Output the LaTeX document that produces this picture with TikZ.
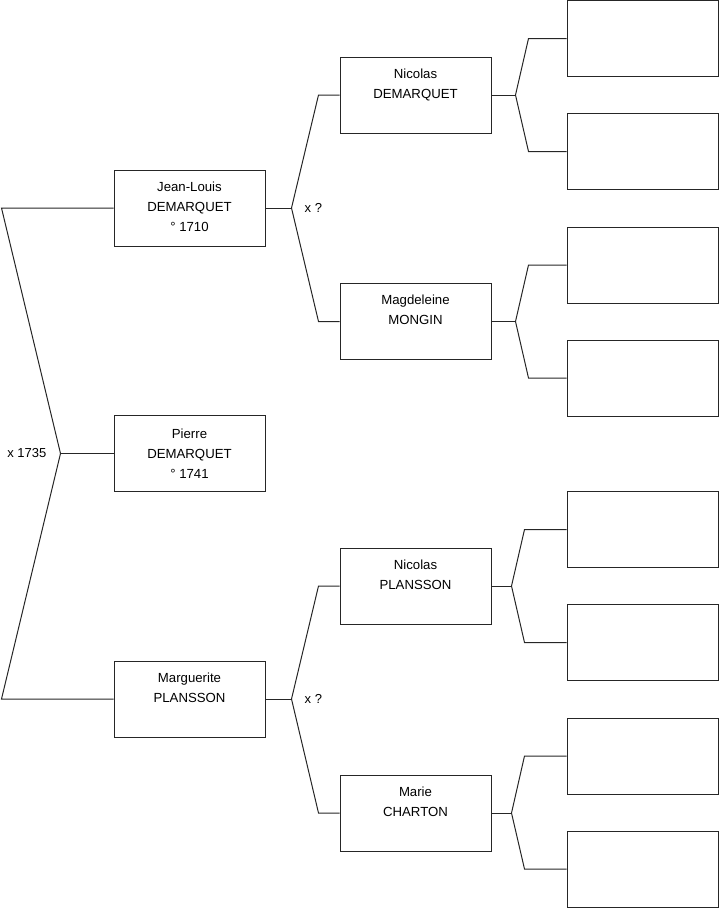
\documentclass[tikz,border=0pt]{standalone}
\usepackage{fontspec}
\setmainfont{Liberation Sans}
\begin{document}
\begin{tikzpicture}[x=1pt,y=-1pt,
  person/.style={draw=black!85, line width=1pt, minimum width=151pt, minimum height=76pt, inner sep=0pt, fill=white},
  ptext/.style={anchor=base, align=center, inner sep=0pt, font=\fontsize{13.2}{20}\selectfont},
  conn/.style={draw=black!85, line width=1pt},
  mlabel/.style={inner sep=0pt, font=\fontsize{13}{16}\selectfont}]
\useasboundingbox (0,0) rectangle (719,908);
% generation 1
\node[person] (P) at (189.5,453.5) {};
% generation 2
\node[person] (JL) at (189.5,208) {};
\node[person] (M) at (189.5,699) {};
% generation 3
\node[person] (ND) at (415.5,95) {};
\node[person] (MM) at (415.5,321.5) {};
\node[person] (NP) at (415.5,586) {};
\node[person] (MC) at (415.5,813) {};
% generation 4
\node[person] (R1) at (642.5,38.5) {};
\node[person] (R2) at (642.5,151.5) {};
\node[person] (R3) at (642.5,265) {};
\node[person] (R4) at (642.5,378) {};
\node[person] (R5) at (642.5,529.5) {};
\node[person] (R6) at (642.5,642.5) {};
\node[person] (R7) at (642.5,756) {};
\node[person] (R8) at (642.5,869) {};
% texts (base anchor = baseline of the last line)
\node[ptext] (tP) at ([yshift=-63]P.north) {Pierre\\DEMARQUET\\° 1741};
\node[ptext] (tJL) at ([yshift=-61.5]JL.north) {Jean-Louis\\DEMARQUET\\° 1710};
\node[ptext] (tM) at ([yshift=-41.5]M.north) {Marguerite\\PLANSSON};
\node[ptext] (tND) at ([yshift=-41.5]ND.north) {Nicolas\\DEMARQUET};
\node[ptext] (tMM) at ([yshift=-41.5]MM.north) {Magdeleine\\MONGIN};
\node[ptext] (tNP) at ([yshift=-41.5]NP.north) {Nicolas\\PLANSSON};
\node[ptext] (tMC) at ([yshift=-41.5]MC.north) {Marie\\CHARTON};
% branch points
\coordinate (bP) at ([xshift=-53]P.west);
\coordinate (bJL) at ([xshift=26]JL.east);
\coordinate (bM) at ([xshift=26]M.east);
\coordinate (bND) at ([xshift=24]ND.east);
\coordinate (bMM) at ([xshift=24]MM.east);
\coordinate (bNP) at ([xshift=20]NP.east);
\coordinate (bMC) at ([xshift=20]MC.east);
% connectors
\draw[conn] (P.west) -- (bP);
\draw[conn] (JL.west) -- ([xshift=-112]JL.west) -- (bP) -- ([xshift=-112]M.west) -- (M.west);
\draw[conn] (JL.east) -- (bJL);
\draw[conn] (ND.west) -- ([xshift=-21]ND.west) -- (bJL) -- ([xshift=-21]MM.west) -- (MM.west);
\draw[conn] (M.east) -- (bM);
\draw[conn] (NP.west) -- ([xshift=-21]NP.west) -- (bM) -- ([xshift=-21]MC.west) -- (MC.west);
\draw[conn] (ND.east) -- (bND);
\draw[conn] (R1.west) -- ([xshift=-38]R1.west) -- (bND) -- ([xshift=-38]R2.west) -- (R2.west);
\draw[conn] (MM.east) -- (bMM);
\draw[conn] (R3.west) -- ([xshift=-38]R3.west) -- (bMM) -- ([xshift=-38]R4.west) -- (R4.west);
\draw[conn] (NP.east) -- (bNP);
\draw[conn] (R5.west) -- ([xshift=-42]R5.west) -- (bNP) -- ([xshift=-42]R6.west) -- (R6.west);
\draw[conn] (MC.east) -- (bMC);
\draw[conn] (R7.west) -- ([xshift=-42]R7.west) -- (bMC) -- ([xshift=-42]R8.west) -- (R8.west);
% marriage labels
\node[mlabel, anchor=east] (lP) at ([xshift=-14]bP) {x 1735};
\node[mlabel, anchor=west] (lJL) at ([xshift=13]bJL) {x ?};
\node[mlabel, anchor=west] (lM) at ([xshift=13]bM) {x ?};
\end{tikzpicture}
\end{document}
